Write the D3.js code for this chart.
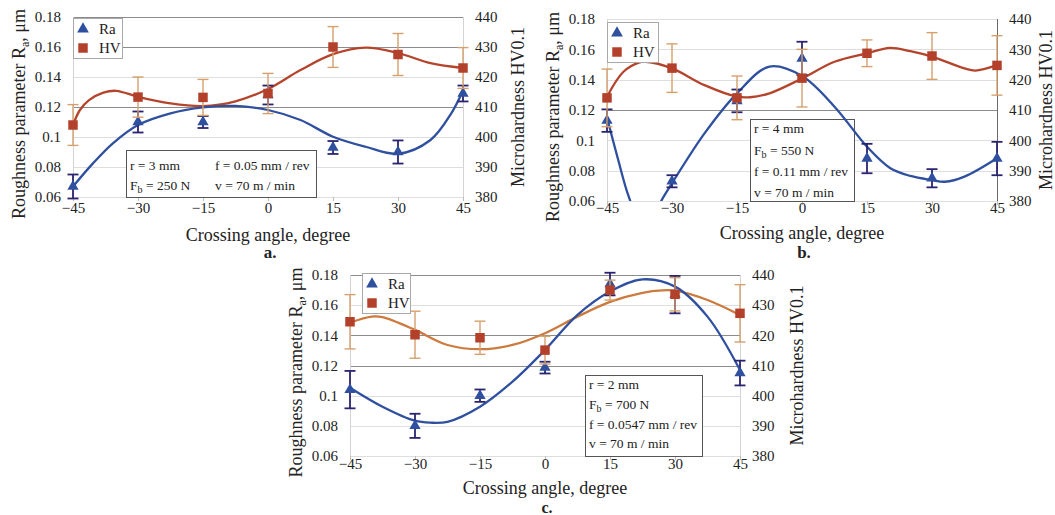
<!DOCTYPE html>
<html>
<head>
<meta charset="utf-8">
<script src="https://cdn.jsdelivr.net/npm/d3@7"></script>
<style>
  body { margin: 0; background: #fff; }
  svg { display: block; font-family: "Liberation Serif", "Times New Roman", serif; }
</style>
</head>
<body>
<svg id="chart" width="1055" height="515"></svg>
<script>
// ---- shared axes ----
const angles = [-45, -30, -15, 0, 15, 30, 45];
const raTicks = [0.06, 0.08, 0.10, 0.12, 0.14, 0.16, 0.18];
const raTickLabels = ["0.06", "0.08", "0.1", "0.12", "0.14", "0.16", "0.18"];
const hvTicks = [380, 390, 400, 410, 420, 430, 440];
const xTitle = "Crossing angle, degree";
const hvTitle = "Microhardness HV0.1";
const legendLabels = ["Ra", "HV"];

// ---- panel a: r = 3 mm, Fb = 250 N ----
const raA    = [0.067, 0.110, 0.110, 0.128, 0.093, 0.090, 0.129];
const raErrA = [0.008, 0.007, 0.004, 0.0063, 0.0043, 0.0077, 0.0053];
const hvA    = [404, 413.3, 413.2, 414.5, 430, 427.5, 423];
const hvErrA = [6.8, 6.7, 6, 6.7, 6.8, 7, 6.8];
const raTrendAngA = [-45, -40.4, -35.8, -30, -22.5, -15, -7.5, 0, 7.5, 15, 22.5, 30, 37.5, 42.3, 45];
const raTrendA    = [0.067, 0.0824, 0.0958, 0.108, 0.1158, 0.1198, 0.1207, 0.118, 0.1113, 0.1002, 0.0935, 0.0888, 0.098, 0.1158, 0.131];
const hvTrendAngA = [-45, -43.4, -41.3, -38, -35, -30, -22.5, -15, -7.5, 0, 7.5, 15, 22.5, 30, 37.5, 45];
const hvTrendA    = [404, 409, 412.3, 414.8, 415.4, 413.4, 411.2, 410.3, 411.9, 416, 422.3, 427.6, 429.8, 428, 424.6, 423];
const infoA = ["r = 3 mm", "f = 0.05 mm / rev", "F_b = 250 N", "v = 70 m / min"];

// ---- panel b: r = 4 mm, Fb = 550 N ----
const raB    = [0.113, 0.073, 0.126, 0.154, 0.088, 0.075, 0.088];
const raErrB = [0.0074, 0.004, 0.0075, 0.011, 0.0097, 0.006, 0.011];
const hvB    = [414, 423.8, 414, 420.5, 428.7, 427.8, 424.7];
const hvErrB = [9.5, 8, 7.2, 9.5, 4.4, 7.7, 9.8];
const raTrendAngB = [-45, -42.5, -40, -37.5, -35, -32.5, -30, -22.5, -15, -7.5, 0, 7.5, 15, 20.3, 25, 30, 33, 37.5, 45];
const raTrendB    = [0.115, 0.088, 0.063, 0.047, 0.045, 0.06, 0.0717, 0.1046, 0.131, 0.1486, 0.1424, 0.1222, 0.0958, 0.0818, 0.0765, 0.0738, 0.0727, 0.0761, 0.0882];
const hvTrendAngB = [-45, -41.2, -37.5, -36, -30, -22.5, -15, -12, -7.5, 0, 7.5, 15, 20.3, 25, 30, 37.5, 40, 45];
const hvTrendB    = [414.4, 422.6, 425.7, 425.9, 423.7, 418.2, 414.4, 414.2, 415.5, 420.4, 425.9, 428.7, 430.5, 429.4, 427.6, 423.7, 423, 424.8];
const infoB = ["r = 4 mm", "F_b = 550 N", "f = 0.11 mm / rev", "v = 70 m / min"];

// ---- panel c: r = 2 mm, Fb = 700 N ----
const raC    = [0.104, 0.080, 0.100, 0.1186, 0.174, 0.167, 0.115];
const raErrC = [0.0124, 0.008, 0.0041, 0.0039, 0.0075, 0.0124, 0.0082];
const hvC    = [424.5, 420.2, 419.2, 415.1, 435, 433.6, 427.3];
const hvErrC = [9, 7.8, 5.5, 4.6, 3.3, 5.5, 9.5];
const raTrendAngC = [-45, -37.5, -30, -26.5, -22.5, -15, -7.5, 0, 7.5, 15, 22.5, 30, 37.5, 45];
const raTrendC    = [0.1053, 0.0927, 0.0834, 0.0821, 0.0827, 0.0927, 0.1093, 0.1303, 0.1535, 0.169, 0.1771, 0.1723, 0.1524, 0.117];
const hvTrendAngC = [-45, -40, -37.5, -30, -22.5, -15, -7.5, 0, 7.5, 15, 22.5, 27, 30, 37.5, 45];
const hvTrendC    = [424.2, 426.2, 426, 421.8, 416.8, 415.4, 416.8, 420.7, 426.2, 431.1, 434.1, 434.9, 434.8, 431.7, 426.7];
const infoC = ["r = 2 mm", "F_b = 700 N", "f = 0.0547 mm / rev", "v = 70 m / min"];

// ---- colours ----
const raColor = "#2f4f9f";
const raErrColor = "#2a2370";
const hvColor = "#b3402a";
const hvErrColor = "#d6a06c";

// ---- layout ----
const panels = [
  { letter: "a.", x0: 73, x1: 463, y0: 17, y1: 197, tickGap: 21, titleGap: 44, letterY: 258, letterSize: 17, hvTitleDx: 61,
    ra: raA, raErr: raErrA, hv: hvA, hvErr: hvErrA,
    raTrendAng: raTrendAngA, raTrend: raTrendA, hvTrendAng: hvTrendAngA, hvTrend: hvTrendA,
    hvCurve: "#b5442c", major: [0.12, 0.16, 0.18], rightLine: false,
    legend: { dx: 0, dy: 1, w: 49, h: 40 },
    box: { dx: 53, y: 150, w: 190 },
    info: infoA, infoPos: [[4, 20], [89, 20], [4, 40], [89, 40]] },
  { letter: "b.", x0: 607, x1: 997, y0: 19, y1: 201, tickGap: 17, titleGap: 38, letterY: 258, letterSize: 17, hvTitleDx: 55,
    ra: raB, raErr: raErrB, hv: hvB, hvErr: hvErrB,
    raTrendAng: raTrendAngB, raTrend: raTrendB, hvTrendAng: hvTrendAngB, hvTrend: hvTrendB,
    hvCurve: "#b5442c", major: [0.12], rightLine: true,
    legend: { dx: 0, dy: 3, w: 51, h: 40 },
    box: { dx: 143, y: 119, w: 104 },
    info: infoB, infoPos: [[4, 14], [4, 35.5], [4, 56.5], [4, 77.5]] },
  { letter: "c.", x0: 350, x1: 740, y0: 275, y1: 456, tickGap: 18, titleGap: 38, letterY: 513, letterSize: 16, hvTitleDx: 63,
    ra: raC, raErr: raErrC, hv: hvC, hvErr: hvErrC,
    raTrendAng: raTrendAngC, raTrend: raTrendC, hvTrendAng: hvTrendAngC, hvTrend: hvTrendC,
    hvCurve: "#cc7a3e", major: [0.12, 0.14, 0.18], rightLine: false,
    legend: { dx: 12, dy: -2, w: 48, h: 40 },
    box: { dx: 235, y: 375, w: 117 },
    info: infoC, infoPos: [[4, 14], [4, 33.5], [4, 54], [4, 73]] }
];

const svg = d3.select("#chart");

// text with "_x" subscripts
function richText(sel, str, subSize, shift) {
  const parts = str.split(/_(\w)/);
  let down = false;
  parts.forEach((p, i) => {
    if (i % 2 === 1) {
      sel.append("tspan").attr("font-size", subSize).attr("dy", shift).text(p);
      down = true;
    } else if (p !== "") {
      const t = sel.append("tspan").text(p);
      if (down) { t.attr("dy", -shift); down = false; }
    }
  });
}

panels.forEach((p, idx) => {
  const g = svg.append("g");
  const x = d3.scaleLinear().domain([-45, 45]).range([p.x0, p.x1]);
  const yR = d3.scaleLinear().domain([0.06, 0.18]).range([p.y1, p.y0]);
  const yH = d3.scaleLinear().domain([380, 440]).range([p.y1, p.y0]);

  // gridlines
  g.append("g").selectAll("line").data(raTicks).join("line")
    .attr("x1", p.x0).attr("x2", p.x1)
    .attr("y1", d => Math.round(yR(d)) + 0.5).attr("y2", d => Math.round(yR(d)) + 0.5)
    .attr("stroke", d => p.major.some(m => Math.abs(m - d) < 1e-9) ? "#8c8c8c" : "#dedede")
    .attr("stroke-width", 1);

  // frame lines
  g.append("line").attr("x1", p.x0 + 0.5).attr("x2", p.x0 + 0.5).attr("y1", p.y0).attr("y2", p.y1)
    .attr("stroke", "#d4d4d4");
  g.append("line").attr("x1", p.x1 + 0.5).attr("x2", p.x1 + 0.5).attr("y1", p.y0).attr("y2", p.y1)
    .attr("stroke", p.rightLine ? "#6a6a6a" : "#d4d4d4");

  // x tick marks
  g.append("g").selectAll("line").data(angles).join("line")
    .attr("x1", d => Math.round(x(d)) + 0.5).attr("x2", d => Math.round(x(d)) + 0.5)
    .attr("y1", p.y1).attr("y2", p.y1 + 4).attr("stroke", "#bdbdbd");

  // axes (labels only)
  const axL = g.append("g").attr("transform", `translate(${p.x0 - 12},0)`)
    .call(d3.axisLeft(yR).tickValues(raTicks).tickFormat((d, i) => raTickLabels[i]).tickSize(0).tickPadding(0));
  const axR = g.append("g").attr("transform", `translate(${p.x1 + 12},0)`)
    .call(d3.axisRight(yH).tickValues(hvTicks).tickFormat(d3.format("d")).tickSize(0).tickPadding(0));
  const axB = g.append("g").attr("transform", `translate(0,${p.y1 + p.tickGap - 16})`)
    .call(d3.axisBottom(x).tickValues(angles).tickFormat(d3.format("d")).tickSize(0).tickPadding(0));
  [axL, axR, axB].forEach(a => {
    a.select(".domain").remove();
    a.selectAll("text").attr("font-family", "Liberation Serif, serif").attr("font-size", 15).attr("fill", "#222");
  });

  // axis titles
  g.append("text").attr("x", (p.x0 + p.x1) / 2).attr("y", p.y1 + p.titleGap)
    .attr("text-anchor", "middle").attr("font-size", 18).attr("fill", "#222").text(xTitle);
  const lt = g.append("text")
    .attr("transform", `translate(${p.x0 - 48},${(p.y0 + p.y1) / 2 + 7}) rotate(-90)`)
    .attr("text-anchor", "middle").attr("font-size", 18).attr("fill", "#222");
  lt.append("tspan").text("Roughness parameter R");
  lt.append("tspan").attr("font-size", 12).attr("dy", 4).text("a");
  lt.append("tspan").attr("dy", -4).text(", μm");
  g.append("text")
    .attr("transform", `translate(${p.x1 + p.hvTitleDx},${(p.y0 + p.y1) / 2}) rotate(-90)`)
    .attr("text-anchor", "middle").attr("font-size", 18).attr("fill", "#222").text(hvTitle);

  // panel letter
  g.append("text").attr("x", (p.x0 + p.x1) / 2 + 2).attr("y", p.letterY)
    .attr("text-anchor", "middle").attr("font-size", p.letterSize).attr("font-weight", "bold").attr("fill", "#222")
    .text(p.letter);

  // parameter box
  const bx = p.x0 + p.box.dx, by = p.box.y;
  g.append("rect").attr("x", bx + 0.5).attr("y", by + 0.5).attr("width", p.box.w).attr("height", p.y1 - by)
    .attr("fill", "#fff").attr("stroke", "#555").attr("stroke-width", 1);
  p.info.forEach((s, i) => {
    const t = g.append("text").attr("x", bx + p.infoPos[i][0]).attr("y", by + p.infoPos[i][1])
      .attr("font-size", 13.5).attr("fill", "#222");
    richText(t, s, 10, 3);
  });

  // trend curves (clipped to the plot area)
  const clipId = "clip" + idx;
  svg.append("clipPath").attr("id", clipId).append("rect")
    .attr("x", p.x0 - 2).attr("y", p.y0 - 6).attr("width", p.x1 - p.x0 + 4).attr("height", p.y1 - p.y0 + 6);
  const curves = g.append("g").attr("clip-path", `url(#${clipId})`);
  const line = d3.line().curve(d3.curveCatmullRom.alpha(0.5));
  curves.append("path")
    .attr("d", line(p.hvTrendAng.map((a, i) => [x(a), yH(p.hvTrend[i])])))
    .attr("fill", "none").attr("stroke", p.hvCurve).attr("stroke-width", 2.3);
  curves.append("path")
    .attr("d", line(p.raTrendAng.map((a, i) => [x(a), yR(p.raTrend[i])])))
    .attr("fill", "none").attr("stroke", raColor).attr("stroke-width", 2.3);

  // error bars
  function errBars(vals, errs, scale, color, width) {
    const eg = g.append("g").attr("stroke", color).attr("stroke-width", width).attr("fill", "none");
    angles.forEach((a, i) => {
      const cx = x(a), top = scale(vals[i] + errs[i]), bot = scale(vals[i] - errs[i]);
      eg.append("line").attr("x1", cx).attr("x2", cx).attr("y1", top).attr("y2", bot);
      eg.append("line").attr("x1", cx - 5.5).attr("x2", cx + 5.5).attr("y1", top).attr("y2", top);
      eg.append("line").attr("x1", cx - 5.5).attr("x2", cx + 5.5).attr("y1", bot).attr("y2", bot);
    });
  }
  errBars(p.ra, p.raErr, yR, raErrColor, 1.8);
  g.append("g").selectAll("path").data(p.ra).join("path")
    .attr("transform", (d, i) => `translate(${x(angles[i])},${yR(d)})`)
    .attr("d", d3.symbol(d3.symbolTriangle, 55)).attr("fill", raColor);
  errBars(p.hv, p.hvErr, yH, hvErrColor, 1.4);
  g.append("g").selectAll("path").data(p.hv).join("path")
    .attr("transform", (d, i) => `translate(${x(angles[i])},${yH(d)})`)
    .attr("d", d3.symbol(d3.symbolSquare, 90)).attr("fill", hvColor);

  // legend
  const lx = p.x0 + p.legend.dx, ly = p.y0 + p.legend.dy;
  g.append("rect").attr("x", lx + 0.5).attr("y", ly + 0.5).attr("width", p.legend.w).attr("height", p.legend.h)
    .attr("fill", "#fff").attr("stroke", "#a8a8a8");
  g.append("path").attr("transform", `translate(${lx + 10},${ly + 11})`)
    .attr("d", d3.symbol(d3.symbolTriangle, 60)).attr("fill", raColor);
  g.append("path").attr("transform", `translate(${lx + 10},${ly + 30})`)
    .attr("d", d3.symbol(d3.symbolSquare, 90)).attr("fill", hvColor);
  legendLabels.forEach((s, i) => {
    g.append("text").attr("x", lx + 26).attr("y", ly + 16 + i * 19)
      .attr("font-size", 15).attr("fill", "#222").text(s);
  });
});
</script>
</body>
</html>
